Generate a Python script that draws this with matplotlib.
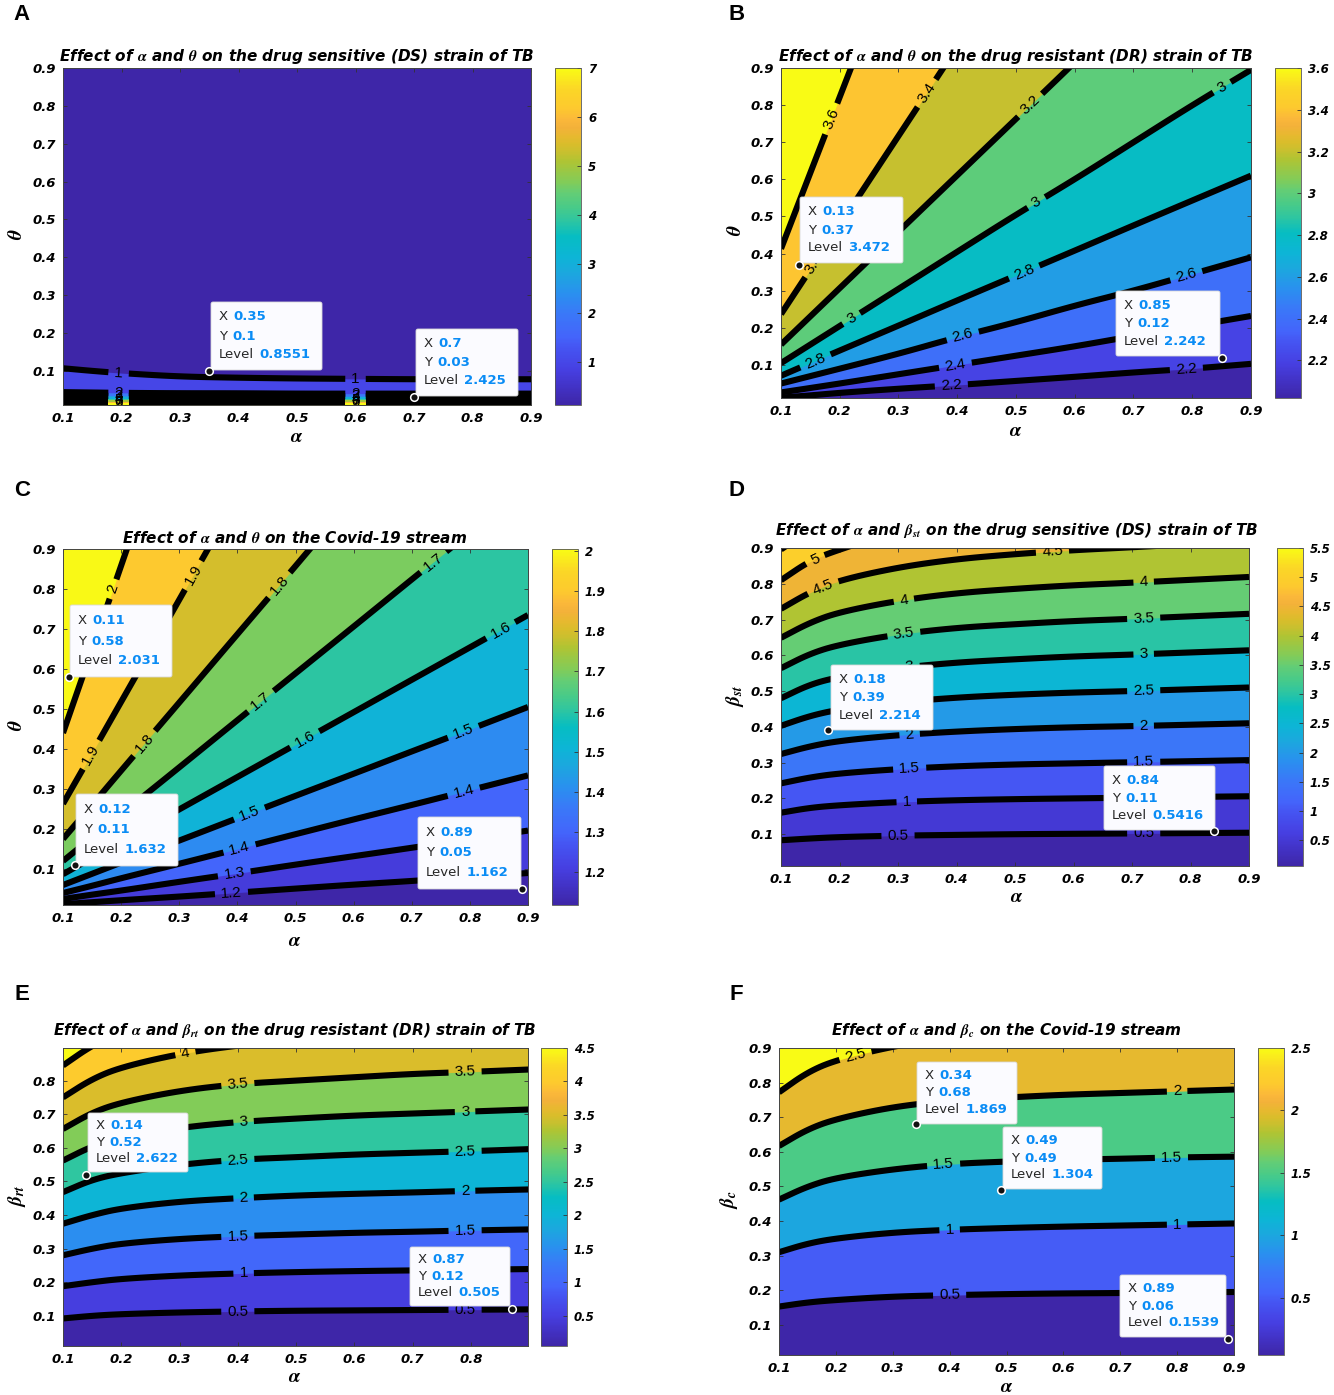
import numpy as np
import matplotlib
matplotlib.use("Agg")
import matplotlib.pyplot as plt
from matplotlib.colors import LinearSegmentedColormap, Normalize
from matplotlib.cm import ScalarMappable
from matplotlib.contour import ContourSet
from matplotlib.lines import Line2D
from matplotlib.patches import FancyBboxPatch

W, H = 1334, 1395
plt.rcParams["font.family"] = "Liberation Sans"
plt.rcParams["mathtext.fontset"] = "stix"

# x samples at which every level curve was read
alpha_grid = [0.1, 0.15, 0.2, 0.3, 0.4, 0.5, 0.6, 0.7, 0.8, 0.9]

# Panel A
a_levels = [1, 2, 3, 4, 5, 6, 7]
a_curves = [
    [.107, .100, .094, .085, .082, .080, .079, .078, .078, .078],
    [.044, .043, .042, .041, .041, .040, .040, .040, .040, .040],
    [.034, .034, .034, .033, .033, .033, .033, .033, .033, .033],
    [.027, .027, .027, .027, .027, .027, .027, .027, .027, .027],
    [.022, .022, .022, .022, .022, .022, .022, .022, .022, .022],
    [.018, .018, .018, .018, .018, .018, .018, .018, .018, .018],
    [.015, .015, .015, .015, .015, .015, .015, .015, .015, .015],
]
a_clim = [0.12, 7.0]
a_cticks = [1, 2, 3, 4, 5, 6, 7]
a_labels = [(.195, .094), (.6, .078), (.195, .043), (.6, .041), (.195, .034), (.6, .033),
            (.195, .027), (.6, .027), (.195, .022), (.6, .022), (.195, .018), (.6, .018),
            (.195, .015), (.6, .015)]
a_tips = [(.35, .1, "0.35", "0.1", "0.8551"), (.7, .03, "0.7", "0.03", "2.425")]

# Panel B
b_levels = [2.2, 2.4, 2.6, 2.8, 3, 3.2, 3.4, 3.6]
b_curves = [
    [.012, .018, .025, .036, .046, .057, .068, .080, .090, .103],
    [.026, .038, .050, .075, .100, .125, .150, .178, .205, .232],
    [.050, .070, .090, .130, .175, .215, .260, .300, .345, .390],
    [.071, .105, .139, .206, .274, .341, .408, .476, .543, .610],
    [.105, .155, .205, .305, .405, .505, .600, .700, .800, .895],
    [.155, .231, .307, .459, .611, .763, .915, 1.07, 1.22, 1.37],
    [.237, .357, .477, .717, .957, 1.20, 1.44, 1.50, 1.50, 1.50],
    [.413, .618, .822, 1.23, 1.50, 1.50, 1.50, 1.50, 1.50, 1.50],
]
b_clim = [2.02, 3.6]
b_cticks = [2.2, 2.4, 2.6, 2.8, 3, 3.2, 3.4, 3.6]
b_labels = [(.19, .76), (.35, .83), (.16, .37), (.53, .79), (.22, .225), (.534, .54),
            (.85, .85), (.159, .11), (.514, .35), (.41, .175), (.79, .34), (.397, .098),
            (.39, .044), (.79, .09)]
b_tips = [(.13, .37, "0.13", "0.37", "3.472"), (.85, .12, "0.85", "0.12", "2.242")]

# Panel C
c_levels = [1.2, 1.3, 1.4, 1.5, 1.6, 1.7, 1.8, 1.9, 2]
c_curves = [
    [.012, .017, .022, .031, .041, .051, .061, .070, .080, .090],
    [.025, .036, .046, .068, .089, .111, .132, .153, .175, .196],
    [.040, .058, .077, .113, .150, .187, .224, .260, .297, .334],
    [.060, .088, .116, .171, .227, .283, .338, .394, .449, .505],
    [.087, .128, .168, .249, .330, .411, .492, .573, .654, .735],
    [.120, .179, .237, .354, .472, .589, .706, .824, .941, 1.06],
    [.175, .260, .346, .516, .687, .857, 1.03, 1.20, 1.37, 1.50],
    [.263, .390, .518, .773, 1.03, 1.28, 1.50, 1.50, 1.50, 1.50],
    [.440, .649, .858, 1.28, 1.50, 1.50, 1.50, 1.50, 1.50, 1.50],
]
c_clim = [1.118, 2.005]
c_cticks = [1.2, 1.3, 1.4, 1.5, 1.6, 1.7, 1.8, 1.9, 2]
c_labels = [(.186, .80), (.322, .836), (.149, .385), (.24, .414), (.475, .806), (.44, .52),
            (.737, .868), (.516, .424), (.853, .697), (.421, .238), (.788, .446), (.404, .15),
            (.79, .29), (.395, .085), (.39, .037)]
c_tips = [(.11, .58, "0.11", "0.58", "2.031"), (.12, .11, "0.12", "0.11", "1.632"),
          (.89, .05, "0.89", "0.05", "1.162")]

# Panel D
d_levels = [.5, 1, 1.5, 2, 2.5, 3, 3.5, 4, 4.5, 5, 5.5]
d_curves = [
    [.083, .088, .092, .096, .098, .100, .101, .102, .103, .104],
    [.160, .174, .181, .190, .195, .198, .200, .202, .204, .206],
    [.242, .259, .270, .282, .290, .295, .298, .301, .304, .307],
    [.324, .346, .361, .377, .387, .394, .399, .402, .406, .410],
    [.403, .431, .449, .469, .482, .490, .496, .500, .505, .510],
    [.480, .519, .540, .565, .580, .589, .597, .602, .608, .614],
    [.564, .605, .630, .659, .677, .687, .696, .702, .709, .716],
    [.649, .692, .721, .753, .774, .786, .796, .803, .811, .819],
    [.730, .777, .810, .846, .869, .883, .894, .902, .911, .920],
    [.810, .865, .896, .948, .973, .989, 1.00, 1.01, 1.02, 1.03],
    [.896, .950, .990, 1.04, 1.07, 1.09, 1.10, 1.11, 1.12, 1.13],
]
d_clim = [0.06, 5.5]
d_cticks = [.5, 1, 1.5, 2, 2.5, 3, 3.5, 4, 4.5, 5, 5.5]
d_labels = [(.30, .096), (.72, .102), (.315, .19), (.32, .283), (.72, .301), (.32, .377),
            (.72, .402), (.32, .47), (.72, .50), (.32, .565), (.72, .602), (.31, .66),
            (.72, .702), (.31, .755), (.72, .803), (.172, .79), (.564, .89), (.158, .87)]
d_tips = [(.18, .39, "0.18", "0.39", "2.214"), (.84, .11, "0.84", "0.11", "0.5416")]

# Panel E
e_levels = [.5, 1, 1.5, 2, 2.5, 3, 3.5, 4, 4.5]
e_curves = [
    [.092, .100, .105, .110, .113, .115, .116, .117, .118, .119],
    [.188, .200, .210, .220, .226, .230, .233, .235, .237, .239],
    [.280, .300, .315, .329, .337, .342, .347, .350, .354, .357],
    [.374, .400, .420, .440, .450, .458, .463, .467, .472, .476],
    [.468, .505, .525, .550, .565, .572, .580, .585, .590, .596],
    [.562, .605, .630, .660, .677, .687, .696, .702, .708, .714],
    [.656, .705, .735, .770, .790, .800, .810, .820, .826, .833],
    [.750, .805, .840, .880, .905, .920, .930, .940, .945, .950],
    [.845, .905, .945, .990, 1.02, 1.03, 1.05, 1.06, 1.065, 1.07],
]
e_clim = [0.05, 4.5]
e_cticks = [.5, 1, 1.5, 2, 2.5, 3, 3.5, 4, 4.5]
e_labels = [(.4, .113), (.79, .118), (.41, .226), (.4, .337), (.79, .354), (.41, .45),
            (.79, .471), (.4, .565), (.79, .59), (.41, .677), (.79, .708), (.4, .79),
            (.79, .825), (.31, .882)]
e_tips = [(.14, .52, "0.14", "0.52", "2.622"), (.87, .12, "0.87", "0.12", "0.505")]

# Panel F
f_levels = [.5, 1, 1.5, 2, 2.5]
f_curves = [
    [.153, .165, .172, .182, .186, .189, .191, .192, .194, .195],
    [.310, .335, .350, .367, .375, .380, .384, .387, .390, .393],
    [.462, .500, .525, .550, .565, .572, .577, .580, .584, .586],
    [.617, .665, .695, .730, .748, .757, .765, .770, .775, .780],
    [.772, .830, .865, .905, .930, .945, .955, .965, .970, .980],
]
f_clim = [0.04, 2.5]
f_cticks = [.5, 1, 1.5, 2, 2.5]
f_labels = [(.4, .186), (.4, .375), (.8, .39), (.39, .55), (.79, .584), (.8, .775), (.235, .875)]
f_tips = [(.34, .68, "0.34", "0.68", "1.869"), (.49, .49, "0.49", "0.49", "1.304"),
          (.89, .06, "0.89", "0.06", "0.1539")]

parula = LinearSegmentedColormap.from_list("parula", [
    (0.00, "#3e26a8"), (0.10, "#463ee0"), (0.17, "#4555f2"), (0.20, "#4464fb"),
    (0.27, "#3a78f8"), (0.33, "#2a90ef"), (0.39, "#1ca7de"), (0.44, "#0db5d6"),
    (0.50, "#06bdc2"), (0.55, "#30c69f"), (0.59, "#4acb87"), (0.63, "#64cd75"),
    (0.66, "#80cc5a"), (0.725, "#b0c433"), (0.75, "#c7c02f"), (0.775, "#d9bd2b"),
    (0.80, "#e8b830"), (0.825, "#f3b13a"), (0.85, "#fbb83a"), (0.88, "#fdc82f"),
    (0.94, "#fbd726"), (1.00, "#f9fb15")], N=256)

BOLD = dict(family="DejaVu Sans", weight="bold", style="italic")
AL = r"$\boldsymbol{\alpha}$"
TH = r"$\boldsymbol{\theta}$"
BST = r"$\boldsymbol{\beta}_{\boldsymbol{st}}$"
BRT = r"$\boldsymbol{\beta}_{\boldsymbol{rt}}$"
BC = r"$\boldsymbol{\beta}_{\boldsymbol{c}}$"

panels = [
    dict(tag="A", tagxy=(22, 15), box=(63, 531, 68, 405), cb=(555, 581), lev=a_levels, cur=a_curves,
         clim=a_clim, ct=a_cticks, lab=a_labels, tips=a_tips, rising=False, xmax=.9, ymin=.01,
         title=f"Effect of {AL} and {TH} on the drug sensitive (DS) strain of TB", txy=(297, 56),
         xl=(297, 438), yl=TH, ylxy=(17, 234),
         boxes=[(211, 302, 322, 370), (416, 329, 518, 396)]),
    dict(tag="B", tagxy=(737, 15), box=(781, 1251, 68, 398), cb=(1275, 1301), lev=b_levels, cur=b_curves,
         clim=b_clim, ct=b_cticks, lab=b_labels, tips=b_tips, rising=True, xmax=.9, ymin=.011,
         title=f"Effect of {AL} and {TH} on the drug resistant (DR) strain of TB", txy=(1016, 56),
         xl=(1016, 431), yl=TH, ylxy=(736, 230),
         boxes=[(800, 197, 903, 263), (1116, 291, 1220, 356)]),
    dict(tag="C", tagxy=(22, 490), box=(63, 528, 549, 905), cb=(552, 578), lev=c_levels, cur=c_curves,
         clim=c_clim, ct=c_cticks, lab=c_labels, tips=c_tips, rising=True, xmax=.9, ymin=.01,
         title=f"Effect of {AL} and {TH} on the Covid-19 stream", txy=(295, 538),
         xl=(295, 941), yl=TH, ylxy=(17, 725),
         boxes=[(70, 605, 172, 677), (76, 794, 178, 866), (418, 817, 521, 889)]),
    dict(tag="D", tagxy=(737, 490), box=(781, 1249, 548, 866), cb=(1277, 1303), lev=d_levels, cur=d_curves,
         clim=d_clim, ct=d_cticks, lab=d_labels, tips=d_tips, rising=True, xmax=.9, ymin=.011,
         title=f"Effect of {AL} and {BST} on the drug sensitive (DS) strain of TB", txy=(1017, 531),
         xl=(1017, 898), yl=BST, ylxy=(735, 696),
         boxes=[(831, 665, 933, 730), (1104, 766, 1215, 830)]),
    dict(tag="E", tagxy=(22, 994), box=(63, 528, 1048, 1346), cb=(541, 567), lev=e_levels, cur=e_curves,
         clim=e_clim, ct=e_cticks, lab=e_labels, tips=e_tips, rising=True, xmax=.898, ymin=.01, ymax=.897,
         title=f"Effect of {AL} and {BRT} on the drug resistant (DR) strain of TB", txy=(295, 1031),
         xl=(295, 1377), yl=BRT, ylxy=(17, 1196),
         boxes=[(88, 1113, 188, 1172), (410, 1247, 510, 1306)]),
    dict(tag="F", tagxy=(736, 994), box=(779, 1234, 1048, 1355), cb=(1258, 1284), lev=f_levels, cur=f_curves,
         clim=f_clim, ct=f_cticks, lab=f_labels, tips=f_tips, rising=True, xmax=.9, ymin=.013,
         title=f"Effect of {AL} and {BC} on the Covid-19 stream", txy=(1006, 1031),
         xl=(1007, 1387), yl=BC, ylxy=(729, 1200),
         boxes=[(917, 1062, 1017, 1124), (1003, 1127, 1102, 1189), (1120, 1275, 1226, 1337)]),
]

fig = plt.figure(figsize=(W / 100, H / 100), dpi=100)
renderer = fig.canvas.get_renderer()


def ftext(x, y, s, **kw):
    return fig.text(x / W, 1 - y / H, s, **kw)


def rounded(xs, ys, passes=3):
    """Round the corners of a polyline (drawing only, endpoints kept)."""
    pts = np.column_stack([xs, ys])
    for _ in range(passes):
        q = .75 * pts[:-1] + .25 * pts[1:]
        r = .25 * pts[:-1] + .75 * pts[1:]
        mid = np.empty((2 * len(q), 2))
        mid[0::2], mid[1::2] = q, r
        pts = np.vstack([pts[0], mid, pts[-1]])
    return pts


for p in panels:
    x0, x1, yt, yb = p["box"]
    ax = fig.add_axes([x0 / W, 1 - yb / H, (x1 - x0) / W, (yb - yt) / H])
    ax.set_xlim(0.1, p["xmax"])
    ax.set_ylim(p["ymin"], p.get("ymax", .9))
    norm = Normalize(*p["clim"])
    ax.set_facecolor(parula(0.0))
    segs = []
    for lv, cv in zip(p["lev"], p["cur"]):
        col = parula(norm(lv))
        pts = rounded(alpha_grid, cv)
        segs.append([pts])
        if p["rising"]:
            ax.fill_between(pts[:, 0], pts[:, 1], 2.0, color=col, lw=0)
        else:
            ax.fill_between(pts[:, 0], 0.0, pts[:, 1], color=col, lw=0)
    cs = ContourSet(ax, p["lev"], segs, colors="k", linewidths=4.4)
    ax.set_xlim(0.1, p["xmax"])
    ax.set_ylim(p["ymin"], p.get("ymax", .9))
    ax.clabel(cs, p["lev"], manual=p["lab"], inline=True, inline_spacing=6,
              fmt="%g", fontsize=11, colors="k")
    ax.set_xticks([t for t in np.arange(1, 10) / 10 if t <= p["xmax"]])
    ax.set_yticks([t for t in np.arange(1, 10) / 10 if t <= p.get("ymax", .9)])
    ax.tick_params(direction="in", length=3, width=.6, top=True, right=True, color="#333333", pad=5)
    for lab in ax.get_xticklabels() + ax.get_yticklabels():
        lab.set(fontsize=9.5, **BOLD)
    for s in ax.spines.values():
        s.set_linewidth(.7)
        s.set_color("#444444")

    cx0, cx1 = p["cb"]
    cax = fig.add_axes([cx0 / W, 1 - yb / H, (cx1 - cx0) / W, (yb - yt) / H])
    cbar = fig.colorbar(ScalarMappable(norm=norm, cmap=parula), cax=cax, ticks=p["ct"], format="%g")
    cax.tick_params(direction="in", length=3, width=.6, color="#333333", pad=5)
    for lab in cax.get_yticklabels():
        lab.set(fontsize=8.5, **BOLD)
    cbar.outline.set_linewidth(.6)
    cbar.outline.set_edgecolor("#555555")

    ftext(*p["tagxy"], p["tag"], fontsize=16, weight="bold", ha="center", va="center",
          family="Liberation Sans")
    ftext(*p["txy"], p["title"], fontsize=11, ha="center", va="center", **BOLD)
    ftext(*p["xl"], AL, fontsize=14, ha="center", va="center")
    ftext(*p["ylxy"], p["yl"], fontsize=14, ha="center", va="center", rotation=90)

    for (bx0, by0, bx1, by1), tip in zip(p["boxes"], p["tips"]):
        fig.add_artist(FancyBboxPatch((bx0 + 2, H - by1 + 2), bx1 - bx0 - 4, by1 - by0 - 4,
                                      boxstyle="round,pad=2,rounding_size=2", transform=None,
                                      fc="#fbfbff", ec="#d8d8d8", lw=.6, zorder=5))
        fig.add_artist(Line2D([tip[0]], [tip[1]], transform=ax.transData, marker="o", ms=5.5,
                              mfc="#111111", mec="white", mew=1.1, ls="none", zorder=7,
                              clip_on=False))
        bh = by1 - by0
        for frac, name, val in zip((.22, .5, .77), ("X", "Y", "Level"), tip[2:]):
            ty = by0 + frac * bh
            t1 = ftext(bx0 + 8, ty, name, fontsize=9.5, color="#262626", ha="left", va="center",
                       family="DejaVu Sans", zorder=8)
            ext = t1.get_window_extent(renderer)
            fig.text(ext.x1 / W + 5 / W, 1 - ty / H, val, fontsize=9.5, color="#0a8cf5", weight="bold",
                     ha="left", va="center", family="DejaVu Sans", zorder=8)

fig.savefig("out.png", dpi=100)
